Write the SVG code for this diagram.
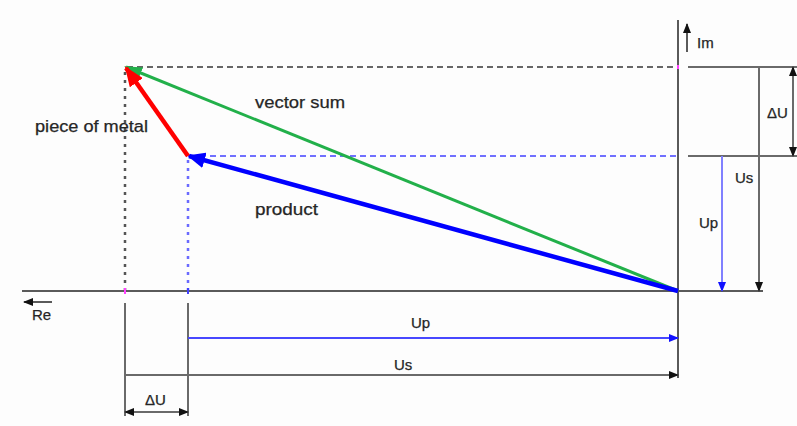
<svg xmlns="http://www.w3.org/2000/svg" width="797" height="426" viewBox="0 0 797 426">
<defs>
<style>
.ax{stroke:#5a5a5a;stroke-width:2;fill:none}
.dim{stroke:#6a6a6a;stroke-width:2;fill:none}
.dg{stroke:#666;stroke-width:2;stroke-dasharray:6 4;fill:none}
.dgv{stroke:#555;stroke-width:2.5;stroke-dasharray:3 5;fill:none}
.db{stroke:#7070ff;stroke-width:2;stroke-dasharray:6 4;fill:none}
.dbv{stroke:#6a6aff;stroke-width:2.5;stroke-dasharray:3 5;fill:none}
.t{font-family:"Liberation Sans",Arial,sans-serif;fill:#262626;stroke:#262626;stroke-width:0.25}
.big{font-size:16px}
.sm{font-size:15px}
</style>
<marker id="ak" markerUnits="userSpaceOnUse" markerWidth="10" markerHeight="8" refX="9" refY="4" orient="auto"><path d="M0,0 L10,4 L0,8 Z" fill="#111"/></marker>
<marker id="aks" markerUnits="userSpaceOnUse" markerWidth="10" markerHeight="8" refX="1" refY="4" orient="auto"><path d="M10,0 L0,4 L10,8 Z" fill="#111"/></marker>
<marker id="ab" markerUnits="userSpaceOnUse" markerWidth="10" markerHeight="8" refX="9" refY="4" orient="auto"><path d="M0,0 L10,4 L0,8 Z" fill="#1010ff"/></marker>
<marker id="vb" markerUnits="userSpaceOnUse" markerWidth="18" markerHeight="16" refX="16" refY="8" orient="auto"><path d="M0,0 L18,8 L0,16 Z" fill="#0000ff"/></marker>
<marker id="vr" markerUnits="userSpaceOnUse" markerWidth="20" markerHeight="16" refX="18" refY="8" orient="auto"><path d="M0,0 L20,8 L0,16 Z" fill="#ff0000"/></marker>
<marker id="vg" markerUnits="userSpaceOnUse" markerWidth="18" markerHeight="12" refX="16" refY="6" orient="auto"><path d="M0,0 L18,6 L0,12 Z" fill="#22b04a"/></marker>
</defs>
<rect width="797" height="426" fill="#fdfdfd"/>
<g id="connectors">
<line class="dg" x1="127" y1="67" x2="678" y2="67"/>
<line class="dgv" x1="125" y1="72" x2="125" y2="291"/>
<line class="db" x1="190" y1="156" x2="678" y2="156"/>
<line class="dbv" x1="188" y1="160" x2="188" y2="291"/>
<line class="ax" x1="678" y1="20" x2="678" y2="378"/>
<line class="ax" x1="22" y1="291" x2="763" y2="291"/>
<line class="ax" x1="687" y1="52" x2="687" y2="24" marker-end="url(#ak)"/>
<line class="ax" x1="52" y1="302" x2="24" y2="302" marker-end="url(#ak)"/>
<line x1="678" y1="65" x2="678" y2="69" stroke="#ff40ff" stroke-width="2"/>
<line x1="125" y1="288" x2="125" y2="294" stroke="#ff40ff" stroke-width="2"/>
<line x1="188" y1="288" x2="188" y2="294" stroke="#4040ff" stroke-width="2"/>
<line class="dim" x1="688" y1="67" x2="797" y2="67"/>
<line class="dim" x1="688" y1="156" x2="797" y2="156"/>
<line class="dim" x1="759" y1="67" x2="759" y2="291" marker-end="url(#ak)"/>
<line class="dim" x1="793" y1="67" x2="793" y2="156" marker-start="url(#aks)" marker-end="url(#ak)"/>
<line x1="722" y1="156" x2="722" y2="291" stroke="#8080ff" stroke-width="2" marker-end="url(#ab)"/>
<line class="dim" x1="125" y1="303" x2="125" y2="416"/>
<line class="dim" x1="188" y1="303" x2="188" y2="416"/>
<line x1="188" y1="338" x2="678" y2="338" stroke="#4848ff" stroke-width="2" marker-end="url(#ab)"/>
<line class="dim" x1="125" y1="375" x2="678" y2="375" marker-end="url(#ak)"/>
<line class="dim" x1="125" y1="412" x2="188" y2="412" marker-start="url(#aks)" marker-end="url(#ak)"/>
<line x1="678" y1="291" x2="126" y2="67" stroke="#22b04a" stroke-width="3" marker-end="url(#vg)"/>
<line x1="678" y1="291" x2="189" y2="156" stroke="#0000ff" stroke-width="4.5" marker-end="url(#vb)"/>
<line x1="188" y1="156" x2="126" y2="68" stroke="#ff0000" stroke-width="4.5" marker-end="url(#vr)"/>
</g>
<g id="labels">
<g id="lbl-vector-sum"><text class="t big" x="255" y="108" textLength="90" lengthAdjust="spacingAndGlyphs">vector sum</text></g>
<g id="lbl-piece"><text class="t big" x="35" y="132" textLength="113" lengthAdjust="spacingAndGlyphs">piece of metal</text></g>
<g id="lbl-product"><text class="t big" x="255" y="215" textLength="63" lengthAdjust="spacingAndGlyphs">product</text></g>
<g id="lbl-im"><text class="t sm" x="697" y="48">Im</text></g>
<g id="lbl-re"><text class="t sm" x="32" y="320">Re</text></g>
<g id="lbl-du-right"><text class="t sm" x="767" y="118">ΔU</text></g>
<g id="lbl-us-right"><text class="t sm" x="735" y="183">Us</text></g>
<g id="lbl-up-right"><text class="t sm" x="699" y="228">Up</text></g>
<g id="lbl-up-bottom"><text class="t sm" x="411" y="328">Up</text></g>
<g id="lbl-us-bottom"><text class="t sm" x="394" y="370">Us</text></g>
<g id="lbl-du-bottom"><text class="t sm" x="145" y="405">ΔU</text></g>
</g>
</svg>
